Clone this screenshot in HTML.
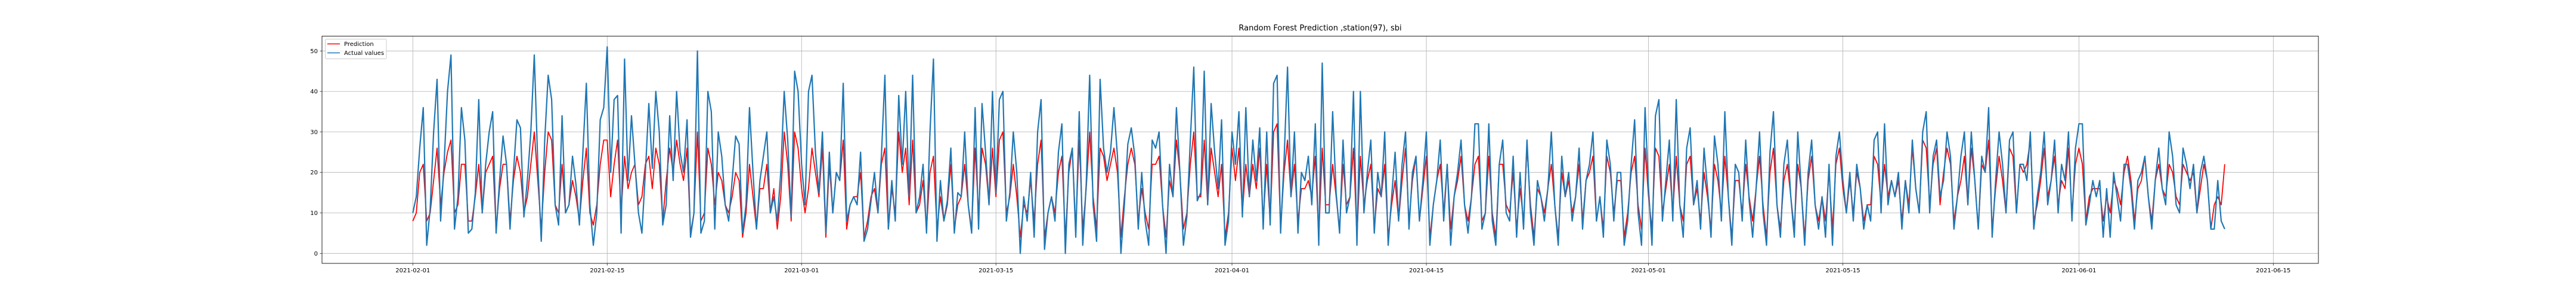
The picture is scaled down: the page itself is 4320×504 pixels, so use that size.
<!DOCTYPE html>
<html><head><meta charset="utf-8">
<style>
html,body{margin:0;padding:0;background:#fff;}
svg{display:block;font-family:"DejaVu Sans","Liberation Sans",sans-serif;}
</style></head>
<body>
<svg id="chart" width="4320" height="504" viewBox="0 0 4320 504" xmlns="http://www.w3.org/2000/svg">
<rect x="0" y="0" width="4320" height="504" fill="#fff"/>
<text x="2214" y="51" font-size="13" text-anchor="middle" fill="#000">Random Forest Prediction ,station(97), sbi</text>
<g id="grid"></g>
<g id="series"></g>
<rect x="540" y="60.5" width="3348" height="380.5" fill="none" stroke="#222" stroke-width="1"/>
<g id="axes"></g>
<g>
<rect x="545.5" y="65.5" width="102.5" height="33" fill="#fff" fill-opacity="0.8" stroke="#ccc" stroke-width="1" rx="2"/>
<line x1="549" y1="73.5" x2="570" y2="73.5" stroke="red" stroke-width="1.5"/>
<text x="577" y="77" font-size="10" fill="#000">Prediction</text>
<line x1="549" y1="88.5" x2="570" y2="88.5" stroke="#1f77b4" stroke-width="1.5"/>
<text x="577" y="92" font-size="10" fill="#000">Actual values</text>
</g>
</svg>
<script>
const xTickLabels = ["2021-02-01","2021-02-15","2021-03-01","2021-03-15","2021-04-01","2021-04-15","2021-05-01","2021-05-15","2021-06-01","2021-06-15"];
const xTickDays = [0,14,28,42,59,73,89,103,120,134];
const yTicks = [0,10,20,30,40,50];
const pointsPerDay = 4;
const actualValues = [
10,14,26,36,2,11,30,43,8,22,40,49,6,14,36,28,5,6,15,38,10,22,30,35,5,18,29,22,6,20,33,31,9,18,30,49,22,3,28,44,38,12,7,34,10,12,24,17,7,25,42,12,2,10,33,36,51,20,
38,39,5,48,18,34,22,10,5,20,37,21,40,30,7,12,34,18,40,25,20,33,4,10,50,5,8,40,35,6,30,24,12,8,18,29,27,5,12,36,20,6,18,24,30,10,14,8,20,40,28,9,45,40,22,12,40,44,
25,15,30,5,25,10,20,18,42,8,12,14,12,25,3,6,13,20,10,24,44,6,18,8,39,22,40,14,44,10,14,22,5,30,48,3,18,8,13,26,5,15,14,30,12,5,36,6,37,25,12,40,15,38,40,8,15,30,
20,0,14,8,20,4,30,38,1,10,14,8,25,32,0,22,26,4,35,2,17,44,12,3,43,26,20,25,36,24,0,12,27,31,24,6,20,8,2,28,26,30,12,0,22,14,36,20,2,9,28,46,13,15,45,12,37,25,
16,33,2,8,30,22,35,9,36,14,28,18,31,6,30,7,42,44,5,23,46,14,30,5,20,18,24,12,32,2,47,10,10,35,15,5,28,10,14,40,2,40,10,20,28,5,20,14,30,2,14,25,8,22,30,6,20,24,
8,18,30,2,12,18,28,8,22,2,14,20,28,12,5,14,32,32,6,10,32,8,2,22,28,10,8,24,4,20,6,28,10,2,18,14,8,16,30,12,2,24,14,20,8,14,26,6,18,22,30,8,14,4,28,22,8,20,
20,2,8,22,33,10,2,36,16,2,34,38,8,18,28,8,38,12,4,26,31,12,18,6,26,16,4,29,22,8,35,14,2,22,20,8,28,13,4,16,30,10,2,25,35,12,4,22,28,14,4,30,16,2,20,28,12,6,
14,4,22,2,24,30,18,10,20,8,22,16,6,12,8,28,30,10,32,12,18,14,20,6,18,10,28,16,10,30,35,10,24,28,14,18,30,24,6,14,24,30,12,30,18,6,24,20,36,4,18,30,22,10,28,30,10,22,
22,18,30,6,14,20,30,12,18,28,10,22,18,30,8,26,32,32,7,12,18,14,18,4,16,4,20,14,8,22,22,16,6,18,20,24,14,6,18,26,16,12,30,24,12,10,26,22,16,22,10,20,24,18,6,6,18,8,6
];
const predictionValues = [
8,10,20,22,8,10,18,26,12,20,25,28,10,12,22,22,8,8,14,22,10,20,22,24,6,16,22,22,8,18,24,20,10,14,22,30,18,6,20,30,28,12,10,22,10,12,18,14,8,18,26,10,7,12,22,28,28,14,
22,28,10,24,16,20,22,12,14,22,24,16,26,22,8,18,26,20,28,22,18,26,5,10,30,8,10,26,22,12,20,18,12,10,14,20,18,4,10,22,14,6,16,16,22,10,16,6,14,30,22,8,30,26,16,10,16,26,
20,14,26,4,22,10,20,18,28,6,12,14,14,20,4,8,14,16,10,22,26,6,16,10,30,20,26,12,28,10,12,18,6,20,24,6,14,8,12,22,6,12,14,22,12,6,26,10,26,22,12,26,14,28,30,10,14,22,
14,4,12,10,18,8,22,28,4,10,14,10,20,24,4,20,26,6,28,6,16,30,14,6,26,24,18,22,26,20,4,14,22,26,22,8,16,10,6,22,22,24,12,4,18,14,28,20,6,10,22,30,14,14,28,12,26,20,
14,22,4,10,26,18,26,10,22,14,22,16,26,8,22,8,30,32,6,20,28,14,22,8,16,16,18,14,24,4,26,12,12,22,14,6,22,12,14,26,4,24,12,18,22,6,16,14,22,4,12,18,8,18,26,8,18,24,
8,16,24,4,12,18,22,10,22,6,14,18,24,12,8,14,22,24,8,10,24,10,4,22,22,12,10,20,6,16,8,26,12,4,16,14,10,16,22,12,4,20,14,18,10,14,22,8,18,20,24,8,14,6,24,20,10,18,
18,4,10,20,24,12,6,26,14,6,26,24,10,16,22,10,24,12,8,22,24,12,16,8,20,14,6,22,18,10,24,14,4,18,18,10,22,14,8,16,24,12,4,20,26,12,6,18,22,14,6,22,16,4,18,24,12,8,
14,8,20,6,22,26,16,10,18,10,20,16,8,12,12,24,22,12,22,14,18,14,18,8,18,12,26,16,10,28,26,12,22,26,12,20,26,22,8,14,18,24,12,26,18,6,22,20,28,6,16,24,18,10,26,24,10,22,
20,22,28,8,12,18,26,14,18,24,12,18,16,26,10,22,26,22,8,14,16,16,16,8,14,10,18,16,12,20,24,18,8,16,18,24,14,8,18,22,16,14,22,20,14,12,22,20,18,20,10,16,22,18,6,12,14,12,22
];

const NS = "http://www.w3.org/2000/svg";
const plotL = 540, plotR = 3888, plotT = 60.5, plotB = 441;
const x0 = 692.3, pxPerDay = 23.284;
const y0 = 424.3, pxPerUnit = 6.78;
function xScale(day){ return x0 + day * pxPerDay; }
function yScale(v){ return y0 - v * pxPerUnit; }

const grid = document.getElementById('grid');
const axes = document.getElementById('axes');
const series = document.getElementById('series');

yTicks.forEach(function(t){
  const y = yScale(t);
  const gl = document.createElementNS(NS,'line');
  
  
  gl.setAttribute('x1', plotL); gl.setAttribute('x2', plotR);
  gl.setAttribute('y1', y); gl.setAttribute('y2', y);
  gl.setAttribute('stroke', '#b0b0b0'); gl.setAttribute('stroke-width', '0.8');
  grid.appendChild(gl);
  const tk = document.createElementNS(NS,'line');
  
  
  tk.setAttribute('x1', plotL - 3.5); tk.setAttribute('x2', plotL);
  tk.setAttribute('y1', y); tk.setAttribute('y2', y);
  tk.setAttribute('stroke', '#222'); tk.setAttribute('stroke-width', '0.8');
  axes.appendChild(tk);
  const lb = document.createElementNS(NS,'text');
  
  
  lb.setAttribute('x', plotL - 7); lb.setAttribute('y', y + 3.5);
  lb.setAttribute('font-size', '10'); lb.setAttribute('text-anchor', 'end');
  lb.textContent = String(t);
  axes.appendChild(lb);
});

xTickDays.forEach(function(d, i){
  const x = xScale(d);
  const gl = document.createElementNS(NS,'line');
  
  
  gl.setAttribute('x1', x); gl.setAttribute('x2', x);
  gl.setAttribute('y1', plotT); gl.setAttribute('y2', plotB);
  gl.setAttribute('stroke', '#b0b0b0'); gl.setAttribute('stroke-width', '0.8');
  grid.appendChild(gl);
  const tk = document.createElementNS(NS,'line');
  
  
  tk.setAttribute('x1', x); tk.setAttribute('x2', x);
  tk.setAttribute('y1', plotB); tk.setAttribute('y2', plotB + 3.5);
  tk.setAttribute('stroke', '#222'); tk.setAttribute('stroke-width', '0.8');
  axes.appendChild(tk);
  const lb = document.createElementNS(NS,'text');
  
  
  lb.setAttribute('x', x); lb.setAttribute('y', plotB + 15);
  lb.setAttribute('font-size', '10'); lb.setAttribute('text-anchor', 'middle');
  lb.textContent = xTickLabels[i];
  axes.appendChild(lb);
});

function drawSeries(vals, color, name, width){
  const pts = vals.map(function(v, i){ return xScale(i / pointsPerDay).toFixed(1) + ',' + yScale(v).toFixed(1); });
  const pl = document.createElementNS(NS,'polyline');
  
  
  pl.setAttribute('points', pts.join(' '));
  pl.setAttribute('fill', 'none');
  pl.setAttribute('stroke', color);
  pl.setAttribute('stroke-width', width);
  pl.setAttribute('stroke-linejoin', 'round');
  series.appendChild(pl);
}
drawSeries(predictionValues, 'red', 'prediction-line', '1.8');
drawSeries(actualValues, '#1f77b4', 'actual-values-line', '2.2');
</script>
</body></html>
